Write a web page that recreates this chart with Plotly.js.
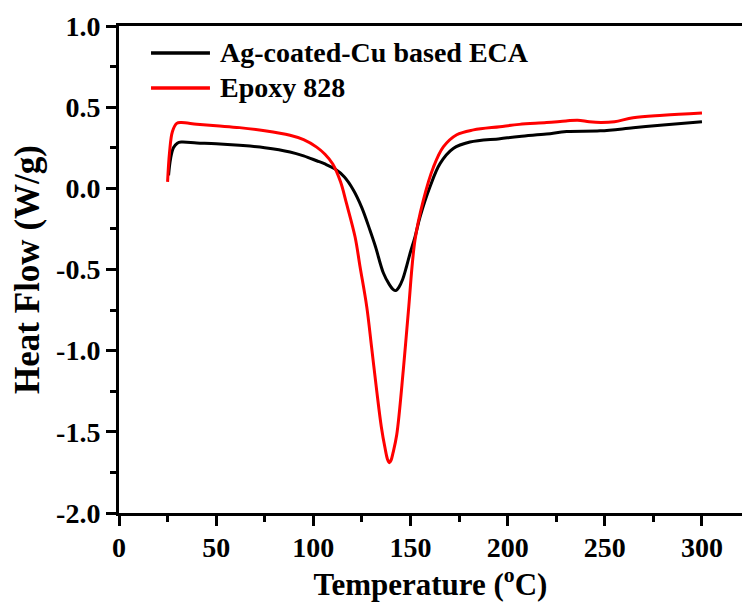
<!DOCTYPE html>
<html>
<head>
<meta charset="utf-8">
<script src="https://cdn.plot.ly/plotly-3.0.1.min.js"></script>
<style>html,body{margin:0;padding:0;background:#fff;}#chart{width:742px;height:607px;}</style>
</head>
<body>
<div id="chart"></div>
<script>
const seriesNames = ["Ag-coated-Cu based ECA", "Epoxy 828"];
const seriesColors = ["#000000", "#ff0000"];

const tempECA = [25.5, 26.5, 28, 30, 32, 40, 50, 62, 75, 88, 95, 101.7, 106, 111, 116, 120.6, 125, 129.2, 132, 136, 139, 141, 142.5, 144, 146, 148, 149.8, 152.3, 154.9, 160, 165.2, 172, 180.6, 196, 206, 220, 230.4, 247.6, 264.6, 280, 300];
const heatECA = [0.08, 0.18, 0.25, 0.278, 0.285, 0.28, 0.275, 0.265, 0.25, 0.224, 0.20, 0.17, 0.15, 0.12, 0.07, -0.01, -0.12, -0.26, -0.36, -0.52, -0.59, -0.622, -0.63, -0.61, -0.56, -0.48, -0.40, -0.30, -0.177, 0.008, 0.152, 0.245, 0.285, 0.306, 0.32, 0.335, 0.35, 0.354, 0.373, 0.39, 0.41];

const tempEpoxy = [25, 26, 27.5, 29.7, 32, 40, 50, 62, 75, 88, 95, 101.7, 106, 110, 114, 117, 121.5, 124, 127.5, 130, 132.6, 135, 136.9, 138.2, 139.1, 140, 141, 142.9, 146.3, 148.9, 152.3, 156.6, 161.8, 166.9, 173.8, 182.4, 196, 206, 220, 230, 236, 242, 248, 255, 264.6, 280, 300];
const heatEpoxy = [0.04, 0.22, 0.35, 0.40, 0.405, 0.395, 0.385, 0.374, 0.355, 0.327, 0.30, 0.254, 0.21, 0.15, 0.04, -0.09, -0.30, -0.48, -0.73, -0.98, -1.245, -1.47, -1.60, -1.67, -1.69, -1.675, -1.63, -1.52, -1.12, -0.76, -0.32, -0.074, 0.13, 0.255, 0.33, 0.36, 0.38, 0.394, 0.405, 0.415, 0.42, 0.41, 0.405, 0.41, 0.435, 0.45, 0.464];

const xTickVals = [0, 50, 100, 150, 200, 250, 300];
const yTickVals = [-2.0, -1.5, -1.0, -0.5, 0.0, 0.5, 1.0];
const yTickText = ["-2.0", "-1.5", "-1.0", "-0.5", "0.0", "0.5", "1.0"];

const FONT = "Liberation Serif, Times New Roman, serif";

const traces = [
  {x: tempECA, y: heatECA, name: seriesNames[0], mode: "lines",
   line: {color: seriesColors[0], width: 3, shape: "spline", smoothing: 1}},
  {x: tempEpoxy, y: heatEpoxy, name: seriesNames[1], mode: "lines",
   line: {color: seriesColors[1], width: 3, shape: "spline", smoothing: 1}}
];

const legendY = [0.9446, 0.8727];
const shapes = [];
const annotations = [];
seriesNames.forEach((n, i) => {
  shapes.push({type: "line", xref: "paper", yref: "paper",
    x0: 0.0514, x1: 0.146, y0: legendY[i], y1: legendY[i],
    line: {color: seriesColors[i], width: 3.5}});
  annotations.push({xref: "paper", yref: "paper", x: 0.159, y: legendY[i],
    xanchor: "left", yanchor: "middle", showarrow: false, text: "<b>" + n + "</b>",
    font: {family: FONT, size: 28, color: "#000", weight: "bold"}});
});

const layout = {
  width: 742, height: 607,
  margin: {l: 119, r: 0, t: 26, b: 94},
  paper_bgcolor: "#fff", plot_bgcolor: "#fff",
  showlegend: false,
  font: {family: FONT, color: "#000"},
  xaxis: {
    range: [0, 320.6], showgrid: false, zeroline: false,
    showline: true, linewidth: 3, linecolor: "#000", mirror: true,
    ticks: "outside", ticklen: 10, tickwidth: 3, tickcolor: "#000",
    tickvals: xTickVals, ticktext: xTickVals.map(v => "<b>" + v + "</b>"),
    tickfont: {family: FONT, size: 28, color: "#000", weight: "bold"},
    ticklabelstandoff: -3,
    minor: {dtick: 25, ticks: "outside", ticklen: 6, tickwidth: 3, tickcolor: "#000", showgrid: false},
    title: {text: "<b>Temperature (<sup>o</sup>C)</b>", font: {family: FONT, size: 31, color: "#000", weight: "bold"}, standoff: 2}
  },
  yaxis: {
    range: [-2.0, 1.0], showgrid: false, zeroline: false,
    showline: true, linewidth: 3, linecolor: "#000", mirror: false,
    ticks: "outside", ticklen: 10, tickwidth: 3, tickcolor: "#000",
    tickvals: yTickVals, ticktext: yTickText.map(v => "<b>" + v + "</b>"),
    tickfont: {family: FONT, size: 28, color: "#000", weight: "bold"},
    minor: {dtick: 0.25, ticks: "outside", ticklen: 6, tickwidth: 3, tickcolor: "#000", showgrid: false},
    title: {text: "<b>Heat Flow (W/g)</b>", font: {family: FONT, size: 35, color: "#000", weight: "bold"}, standoff: 6}
  },
  shapes: shapes,
  annotations: annotations
};

Plotly.newPlot("chart", traces, layout, {displayModeBar: false, staticPlot: true});
</script>
</body>
</html>
